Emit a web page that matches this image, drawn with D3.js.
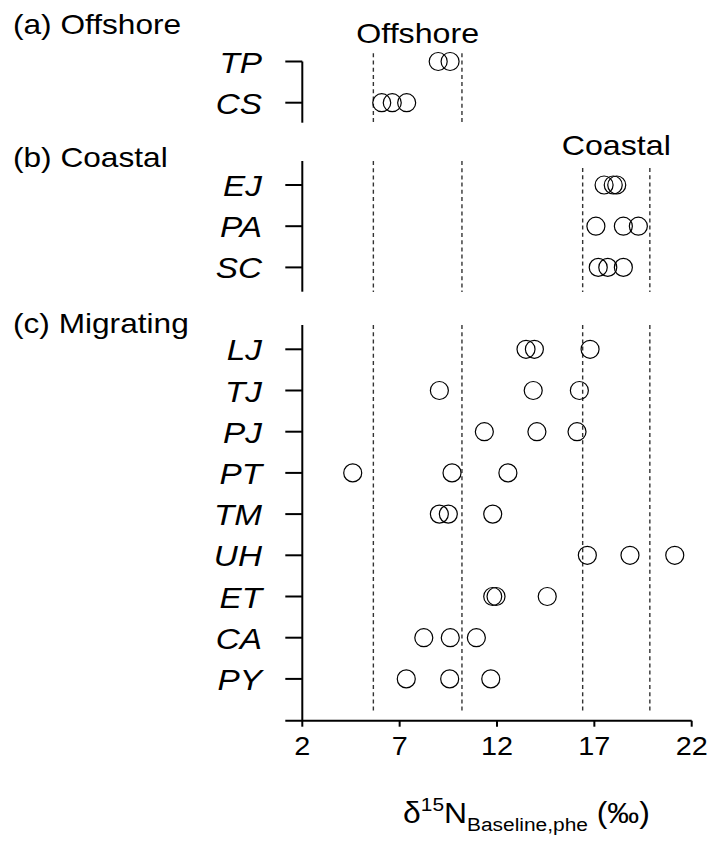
<!DOCTYPE html>
<html>
<head>
<meta charset="utf-8">
<script src="https://cdn.jsdelivr.net/npm/d3@7/dist/d3.min.js"></script>
<style>
  body { margin: 0; background: #fff; }
  svg { display: block; }
  text { font-family: "Liberation Sans", Arial, Helvetica, sans-serif; fill: #000; }
</style>
</head>
<body>
<svg id="chart" width="707" height="842"></svg>
<script>
// δ15N baseline values (‰) per species, grouped by habitat
const xTicks = [2, 7, 12, 17, 22];

const offshoreSpecies = ["TP", "CS"];
const offshoreValues = [
  [8.98, 9.59],
  [6.08, 6.62, 7.36]
];

const coastalSpecies = ["EJ", "PA", "SC"];
const coastalValues = [
  [17.5, 17.97, 18.15],
  [17.08, 18.49, 19.26],
  [17.2, 17.69, 18.49]
];

const migratingSpecies = ["LJ", "TJ", "PJ", "PT", "TM", "UH", "ET", "CA", "PY"];
const migratingValues = [
  [13.49, 13.92, 16.78],
  [9.04, 13.86, 16.23],
  [11.35, 14.05, 16.11],
  [4.59, 9.69, 12.56],
  [9.04, 9.5, 11.78],
  [16.64, 18.83, 21.13],
  [11.78, 11.95, 14.58],
  [8.24, 9.6, 10.94],
  [7.34, 9.57, 11.68]
];

// reference baseline ranges
const offshoreRange = [5.65, 10.2];
const coastalRange = [16.4, 19.85];
const rangeNames = ["Offshore", "Coastal"];
const panelTitles = ["(a) Offshore", "(b) Coastal", "(c) Migrating"];

const svg = d3.select("#chart");
const SX = 1.13;          // horizontal text stretch
const rowStep = 41.2;

const x = d3.scaleLinear().domain([2, 22]).range([302.3, 691.7]);

const panels = [
  { title: panelTitles[0], titleY: 34, species: offshoreSpecies, values: offshoreValues,
    firstRow: 61.5, axis: [61.5, 122.7],
    ranges: [{ r: offshoreRange, y0: 53.3, y1: 123.3 }] },
  { title: panelTitles[1], titleY: 167, species: coastalSpecies, values: coastalValues,
    firstRow: 185, axis: [161, 291.7],
    ranges: [{ r: offshoreRange, y0: 161, y1: 292 }, { r: coastalRange, y0: 168, y1: 292 }] },
  { title: panelTitles[2], titleY: 333, species: migratingSpecies, values: migratingValues,
    firstRow: 349.3, axis: [325, 720.7],
    ranges: [{ r: offshoreRange, y0: 325, y1: 712 }, { r: coastalRange, y0: 325, y1: 712 }] }
];

function stretchedText(g, tx, ty, str, size, anchor, italic) {
  return g.append("text")
    .attr("transform", `translate(${tx},${ty}) scale(${SX},1)`)
    .attr("text-anchor", anchor)
    .attr("font-size", size)
    .attr("font-style", italic ? "italic" : "normal")
    .text(str);
}

panels.forEach(p => {
  const g = svg.append("g");
  const y = d3.scalePoint()
    .domain(p.species)
    .range([p.firstRow, p.firstRow + (p.species.length - 1) * rowStep]);

  // panel title
  stretchedText(g, 13, p.titleY, p.title, 28, "start", false);

  // dashed baseline ranges
  p.ranges.forEach(rg => {
    g.selectAll(null).data(rg.r).enter().append("line")
      .attr("x1", d => x(d)).attr("x2", d => x(d))
      .attr("y1", rg.y0).attr("y2", rg.y1)
      .attr("stroke", "#333").attr("stroke-width", 1.4)
      .attr("stroke-dasharray", "4,3.2");
  });

  // y axis
  g.append("line")
    .attr("x1", x(2)).attr("x2", x(2))
    .attr("y1", p.axis[0]).attr("y2", p.axis[1])
    .attr("stroke", "#000").attr("stroke-width", 2);
  g.selectAll(".ytick").data(p.species).enter().append("line")
    .attr("x1", x(2) - 17).attr("x2", x(2))
    .attr("y1", d => y(d)).attr("y2", d => y(d))
    .attr("stroke", "#000").attr("stroke-width", 2);
  p.species.forEach(s => stretchedText(g, 262, y(s) + 11, s, 29.5, "end", true));

  // points
  p.species.forEach((s, i) => {
    g.selectAll(null).data(p.values[i]).enter().append("circle")
      .attr("cx", d => x(d)).attr("cy", y(s)).attr("r", 9)
      .attr("fill", "none").attr("stroke", "#000").attr("stroke-width", 1.2);
  });
});

// range labels above the dashed lines
stretchedText(svg, x(d3.mean(offshoreRange)), 43, rangeNames[0], 28.5, "middle", false);
stretchedText(svg, x(d3.mean(coastalRange)), 155, rangeNames[1], 28.5, "middle", false);

// x axis
const axisY = 720.7;
svg.append("line")
  .attr("x1", x(2) - 17).attr("x2", x(22))
  .attr("y1", axisY).attr("y2", axisY)
  .attr("stroke", "#000").attr("stroke-width", 2);
svg.selectAll(".xtick").data(xTicks).enter().append("line")
  .attr("x1", d => x(d)).attr("x2", d => x(d))
  .attr("y1", axisY).attr("y2", axisY + 6)
  .attr("stroke", "#000").attr("stroke-width", 2);
xTicks.forEach(t => stretchedText(svg, x(t), 755, String(t), 25.5, "middle", false));

// x axis title: δ15N Baseline,phe (‰)
const title = svg.append("text")
  .attr("transform", "translate(403,823) scale(1.1,1)")
  .attr("font-size", 29);
title.append("tspan").text("δ");
title.append("tspan").attr("font-size", 19).attr("dy", -12).text("15");
title.append("tspan").attr("dy", 12).text("N");
title.append("tspan").attr("font-size", 19).attr("dy", 8).text("Baseline,phe");
title.append("tspan").attr("dy", -8).text(" (‰)");
</script>
</body>
</html>
